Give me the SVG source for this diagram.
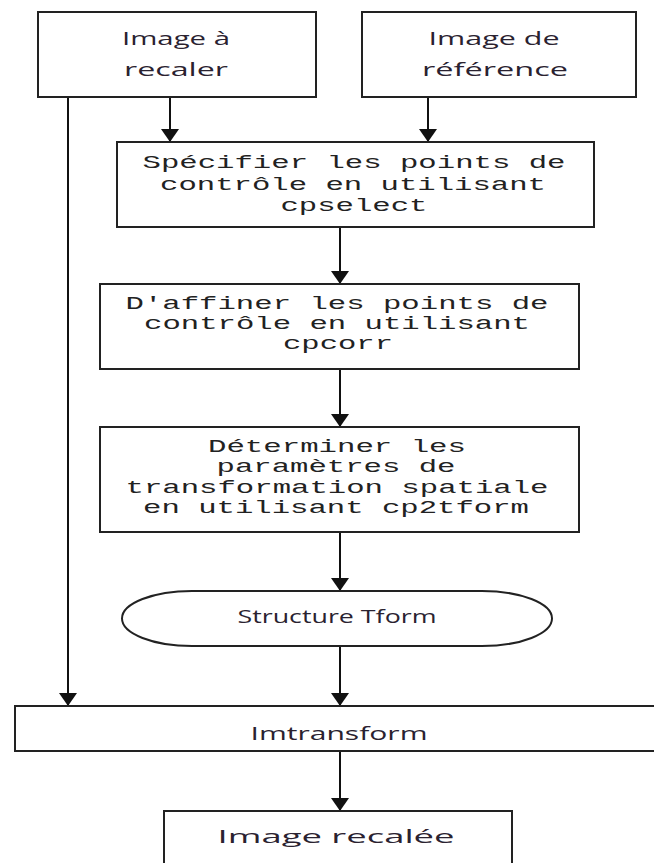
<svg xmlns="http://www.w3.org/2000/svg" width="654" height="863" viewBox="0 0 654 863">
<style>
.box{fill:#fff;stroke:#222;stroke-width:2}
.sans{font-family:"Open Sans","Liberation Sans",sans-serif;font-size:19px;fill:#2a2230;text-anchor:middle}
.mono{font-family:"Liberation Mono","Courier New",monospace;font-size:19px;fill:#222;text-anchor:middle}
.conn line{stroke:#111;stroke-width:2;fill:none}
</style>
<defs>
<marker id="ah" markerUnits="userSpaceOnUse" markerWidth="14" markerHeight="20" refX="13" refY="9" orient="auto" viewBox="0 0 14 20">
<path d="M0,0 L13,9 L0,18 z" fill="#111"/>
</marker>
</defs>
<rect width="654" height="863" fill="#fff"/>
<g class="conn">
<line x1="170" y1="97" x2="170" y2="142" marker-end="url(#ah)"/>
<line x1="428" y1="97" x2="428" y2="142" marker-end="url(#ah)"/>
<line x1="340" y1="227" x2="340" y2="284" marker-end="url(#ah)"/>
<line x1="340" y1="369" x2="340" y2="427" marker-end="url(#ah)"/>
<line x1="340" y1="532" x2="340" y2="591" marker-end="url(#ah)"/>
<line x1="340" y1="646" x2="340" y2="706" marker-end="url(#ah)"/>
<line x1="68" y1="97" x2="68" y2="706" marker-end="url(#ah)"/>
<line x1="340" y1="752" x2="340" y2="811" marker-end="url(#ah)"/>
</g>
<g id="n1">
<rect class="box" x="38" y="12" width="278" height="85"/>
<text class="sans" x="176" y="45" textLength="108" lengthAdjust="spacingAndGlyphs">Image à</text>
<text class="sans" x="176" y="76" textLength="104" lengthAdjust="spacingAndGlyphs">recaler</text>
</g>
<g id="n2">
<rect class="box" x="362" y="12" width="274" height="85"/>
<text class="sans" x="494" y="45" textLength="131" lengthAdjust="spacingAndGlyphs">Image de</text>
<text class="sans" x="495" y="76" textLength="146" lengthAdjust="spacingAndGlyphs">référence</text>
</g>
<g id="n3">
<rect class="box" x="117" y="142" width="477" height="85"/>
<text class="mono" x="354" y="168" textLength="423" lengthAdjust="spacingAndGlyphs">Spécifier les points de</text>
<text class="mono" x="353" y="190" textLength="386" lengthAdjust="spacingAndGlyphs">contrôle en utilisant</text>
<text class="mono" x="354" y="211" textLength="147" lengthAdjust="spacingAndGlyphs">cpselect</text>
</g>
<g id="n4">
<rect class="box" x="100" y="284" width="479" height="85"/>
<text class="mono" x="337" y="309" textLength="423" lengthAdjust="spacingAndGlyphs">D'affiner les points de</text>
<text class="mono" x="337" y="329" textLength="386" lengthAdjust="spacingAndGlyphs">contrôle en utilisant</text>
<text class="mono" x="338" y="349" textLength="110" lengthAdjust="spacingAndGlyphs">cpcorr</text>
</g>
<g id="n5">
<rect class="box" x="100" y="427" width="479" height="105"/>
<text class="mono" x="337" y="452" textLength="258" lengthAdjust="spacingAndGlyphs">Déterminer les</text>
<text class="mono" x="336" y="472" textLength="239" lengthAdjust="spacingAndGlyphs">paramètres de</text>
<text class="mono" x="337" y="493" textLength="423" lengthAdjust="spacingAndGlyphs">transformation spatiale</text>
<text class="mono" x="336" y="513" textLength="386" lengthAdjust="spacingAndGlyphs">en utilisant cp2tform</text>
</g>
<g id="n6">
<path class="box" d="M192,591 L482,591 A70,27.5 0 0 1 482,646 L192,646 A70,27.5 0 0 1 192,591 Z"/>
<text class="sans" x="337" y="623" font-size="17" textLength="199" lengthAdjust="spacingAndGlyphs">Structure Tform</text>
</g>
<g id="n7">
<rect class="box" x="15" y="706" width="660" height="45"/>
<text class="sans" x="339" y="740" textLength="177" lengthAdjust="spacingAndGlyphs">Imtransform</text>
</g>
<g id="n8">
<rect class="box" x="164" y="811" width="348" height="70"/>
<text class="sans" x="336" y="843" font-size="22" textLength="237" lengthAdjust="spacingAndGlyphs">Image  recalée</text>
</g>
</svg>
